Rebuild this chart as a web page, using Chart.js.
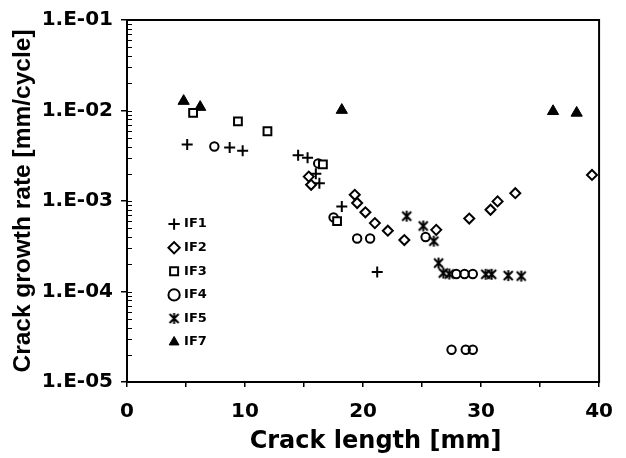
<!DOCTYPE html>
<html>
<head>
<meta charset="utf-8">
<script src="https://cdn.jsdelivr.net/npm/chart.js@4.4.0/dist/chart.umd.min.js"></script>
<style>
  html, body { margin: 0; padding: 0; background: #fff; }
  canvas { display: block; }
</style>
</head>
<body>
<canvas id="crackChart" width="626" height="458"></canvas>
<script>
// crack length [mm] and growth rate [mm/cycle] per specimen
const if1X = [5.1, 8.7, 9.8, 14.5, 15.3, 16.0, 16.3, 18.2, 21.2];
const if1Y = [4.2e-3, 3.9e-3, 3.6e-3, 3.2e-3, 3.0e-3, 2.0e-3, 1.57e-3, 8.7e-4, 1.64e-4];

const if2X = [15.4, 15.6, 19.3, 19.5, 20.2, 21.0, 22.1, 23.5, 26.2, 29.0, 30.8, 31.4, 32.9, 39.4];
const if2Y = [1.86e-3, 1.51e-3, 1.17e-3, 9.5e-4, 7.5e-4, 5.7e-4, 4.7e-4, 3.7e-4, 4.8e-4, 6.4e-4, 8.0e-4, 9.9e-4, 1.22e-3, 1.94e-3];

const if3X = [5.6, 9.4, 11.9, 16.6, 17.8];
const if3Y = [9.4e-3, 7.6e-3, 5.9e-3, 2.54e-3, 6.0e-4];

const if4X = [7.4, 16.2, 17.5, 19.5, 20.6, 25.3, 27.9, 28.6, 29.3, 27.5, 28.7, 29.3];
const if4Y = [4.0e-3, 2.6e-3, 6.6e-4, 3.85e-4, 3.85e-4, 4.0e-4, 1.56e-4, 1.56e-4, 1.56e-4, 2.27e-5, 2.27e-5, 2.27e-5];

const if5X = [23.7, 25.1, 26.0, 26.4, 26.8, 27.3, 30.4, 30.9, 32.3, 33.4];
const if5Y = [6.8e-4, 5.3e-4, 3.6e-4, 2.06e-4, 1.6e-4, 1.56e-4, 1.55e-4, 1.55e-4, 1.5e-4, 1.48e-4];

const if7X = [4.8, 6.2, 18.2, 36.1, 38.1];
const if7Y = [1.27e-2, 1.09e-2, 1.01e-2, 9.8e-3, 9.4e-3];

const xTicks = [0, 10, 20, 30, 40];
const yDecades = [1e-5, 1e-4, 1e-3, 1e-2, 1e-1];

function toPoints(xs, ys) {
  return xs.map((x, i) => ({ x, y: ys[i] }));
}

// Excel style "star" marker: an X with a vertical bar through it
function makeStarMarker() {
  const c = document.createElement('canvas');
  c.width = 13;
  c.height = 13;
  const g = c.getContext('2d');
  g.strokeStyle = '#000';
  g.lineWidth = 2;
  g.beginPath();
  g.moveTo(2, 2); g.lineTo(11, 11);
  g.moveTo(11, 2); g.lineTo(2, 11);
  g.moveTo(6.5, 1); g.lineTo(6.5, 12);
  g.stroke();
  return c;
}

const frameAndMinorTicks = {
  id: 'frameAndMinorTicks',
  afterDraw(chart) {
    const { ctx, chartArea: a, scales: { y } } = chart;
    ctx.save();
    ctx.strokeStyle = '#000';
    ctx.lineWidth = 1.2;
    ctx.beginPath();
    for (let e = -5; e <= -2; e++) {
      for (let k = 1; k < 10; k++) {
        const py = Math.round(y.getPixelForValue(k * Math.pow(10, e))) + 0.5;
        ctx.moveTo(a.left, py);
        ctx.lineTo(a.left + 5, py);
      }
    }
    ctx.stroke();
    ctx.lineWidth = 2;
    ctx.strokeRect(a.left, a.top, a.right - a.left, a.bottom - a.top);
    ctx.restore();
  }
};

// move the legend box to the left middle of the plot
const legendInside = {
  id: 'legendInside',
  afterLayout(chart) {
    const lg = chart.legend;
    lg.left = 160;
    lg.right = lg.left + lg.width;
    lg.top = 207;
    lg.bottom = lg.top + 170;
  }
};

const markerBase = {
  borderColor: '#000',
  backgroundColor: 'rgba(0,0,0,0)',
  borderWidth: 2,
  showLine: false
};

const ctx = document.getElementById('crackChart').getContext('2d');
new Chart(ctx, {
  type: 'scatter',
  data: {
    datasets: [
      { ...markerBase, label: 'IF1', data: toPoints(if1X, if1Y), pointStyle: 'cross', pointRadius: 5.5 },
      { ...markerBase, label: 'IF2', data: toPoints(if2X, if2Y), pointStyle: 'rectRot', pointRadius: 5 },
      { ...markerBase, label: 'IF3', data: toPoints(if3X, if3Y), pointStyle: 'rect', pointRadius: 5.5, backgroundColor: '#fff' },
      { ...markerBase, label: 'IF4', data: toPoints(if4X, if4Y), pointStyle: 'circle', pointRadius: 4.2 },
      { ...markerBase, label: 'IF5', data: toPoints(if5X, if5Y), pointStyle: makeStarMarker() },
      { ...markerBase, label: 'IF7', data: toPoints(if7X, if7Y), pointStyle: 'triangle', pointRadius: 6.5, backgroundColor: '#000', borderWidth: 1 }
    ]
  },
  options: {
    responsive: false,
    animation: false,
    devicePixelRatio: 1,
    layout: { padding: { left: 0, right: 16, top: 17.5, bottom: 0 } },
    plugins: {
      tooltip: { enabled: false },
      legend: {
        position: 'chartArea',
        align: 'start',
        labels: {
          usePointStyle: true,
          boxWidth: 7,
          boxHeight: 8,
          padding: 10.6,
          color: '#000',
          font: { family: 'DejaVu Sans', weight: 'bold', size: 13 }
        }
      }
    },
    scales: {
      x: {
        type: 'linear',
        min: 0,
        max: 40,
        afterFit: scale => { scale.height = 76; },
        ticks: {
          stepSize: 5,
          padding: 13,
          color: '#000',
          font: { family: 'DejaVu Sans', weight: 'bold', size: 20 },
          callback: v => (xTicks.includes(v) ? String(v) : '')
        },
        grid: { drawOnChartArea: false, tickLength: 5, color: '#000', lineWidth: 1.5 },
        border: { display: false },
        title: {
          display: true,
          text: '   Crack length [mm]',
          color: '#000',
          font: { family: 'DejaVu Sans', weight: 'bold', size: 24 },
          padding: { top: 0, bottom: 2 }
        }
      },
      y: {
        type: 'logarithmic',
        min: 1e-5,
        max: 1e-1,
        afterFit: scale => { scale.width = 127; },
        afterBuildTicks: scale => { scale.ticks = yDecades.map(v => ({ value: v, major: true })); },
        ticks: {
          padding: 8,
          color: '#000',
          font: { family: 'DejaVu Sans', weight: 'bold', size: 20 },
          callback: v => {
            const exp = Math.round(Math.log10(v));
            return '1.E-' + String(-exp).padStart(2, '0');
          }
        },
        grid: { drawOnChartArea: false, tickLength: 6, color: '#000', lineWidth: 1.5 },
        border: { display: false },
        title: {
          display: true,
          text: 'Crack growth rate [mm/cycle]',
          color: '#000',
          font: { family: 'Liberation Sans', weight: 'bold', size: 24.5 },
          padding: { top: 9, bottom: 0 }
        }
      }
    }
  },
  plugins: [frameAndMinorTicks, legendInside]
});
</script>
</body>
</html>
